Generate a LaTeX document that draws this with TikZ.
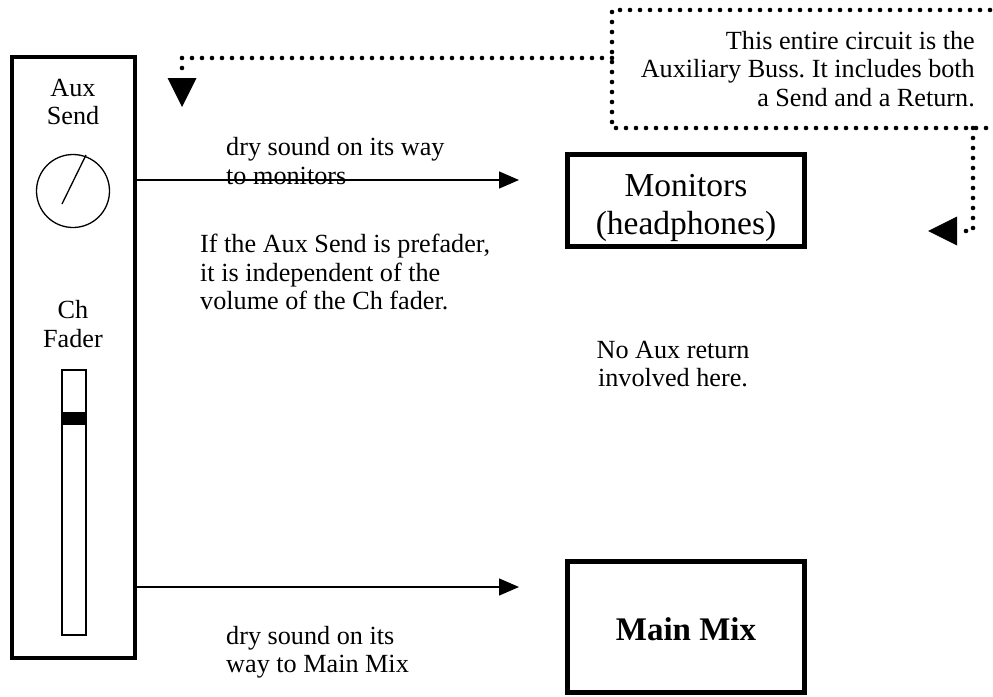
\documentclass[tikz,border=0pt]{standalone}
\usepackage{fontspec}
\setmainfont{Liberation Serif}
\usetikzlibrary{arrows.meta,positioning}
\frenchspacing
\begin{document}
\begin{tikzpicture}[x=1pt,y=-1pt,
  txt/.style={inner sep=0pt,font=\fontsize{26.2}{28.5}\selectfont},
  bigbox/.style={draw,line width=5pt,minimum width=237pt,inner sep=0pt},
  boxtxt/.style={inner sep=0pt,font=\fontsize{33.5}{37.5}\selectfont,align=center},
  solidarrow/.style={line width=1.4pt,-{Triangle[length=20pt,width=17pt]}},
  dotline/.style={line width=4.6pt,dash pattern=on 0pt off 10pt,line cap=round},
  dotarrow/.style={dotline,-{Triangle[length=29pt,width=29pt,line width=0pt]}}]
\useasboundingbox (0,0) rectangle (993,696);
% channel strip
\draw[line width=4pt] (12,57) rectangle (135,658);
\node[rectangle,minimum width=123pt,minimum height=601pt] (strip) at (73.5,357.5) {};
\node[txt,align=center] (auxsend) at (73,102) {Aux\\Send};
\node[draw,circle,line width=1.3pt,minimum size=73pt,inner sep=0pt] (knob) at (73,191) {};
\draw[line width=1.3pt] (62,204) -- (86,155);
\node[txt,align=center] (chfader) at (73,324) {Ch\\Fader};
\node[draw,rectangle,line width=1.3pt,minimum width=24pt,minimum height=265pt,inner sep=0pt] (slot) at (74,502.5) {};
\fill (62,412) rectangle (86,425);
% boxes
\node[bigbox,minimum height=92pt] (mon) at (686,200) {};
\node[boxtxt] (montxt) at (686,208) {Monitors\\(headphones)};
\node[bigbox,minimum height=131pt] (main) at (686,626.5) {};
\node[boxtxt,font=\fontsize{33}{38}\selectfont\bfseries] (maintxt) at (686,629) {Main Mix};
% solid connectors
\coordinate (monend) at (519,180);
\coordinate (mainend) at (519,587);
\draw[solidarrow] (strip.east |- monend) -- (monend);
\draw[solidarrow] (strip.east |- mainend) -- (mainend);
% aux buss dotted box
\draw[dotline] (1010,10) -- (612,10) -- (612,128) -- (1010,128);
\node[rectangle,minimum width=390pt,minimum height=118pt] (aux) at (807,69) {};
\node[txt,align=right,anchor=east] (auxtxt) at (975,69) {This entire circuit is the\\Auxiliary Buss. It includes both\\a Send and a Return.};
\coordinate (tlTip) at (182,107);
\coordinate (rTip) at (928,231);
\draw[dotarrow] (612,58) -- (182,58) -- (tlTip);
\draw[dotarrow] (973,128) -- (973,231) -- (rTip);
% labels
\node[txt,align=left,anchor=west] (l1) at (226,161) {dry sound on its way\\to monitors};
\node[txt,align=left,anchor=west] (l2) at (200,272) {If the Aux Send is prefader,\\it is independent of the\\volume of the Ch fader.};
\node[txt,align=center] (l3) at (673,364) {No Aux return\\involved here.};
\node[txt,align=left,anchor=west] (l4) at (226,652) {dry sound on its\\way to Main Mix};
\end{tikzpicture}
\end{document}
